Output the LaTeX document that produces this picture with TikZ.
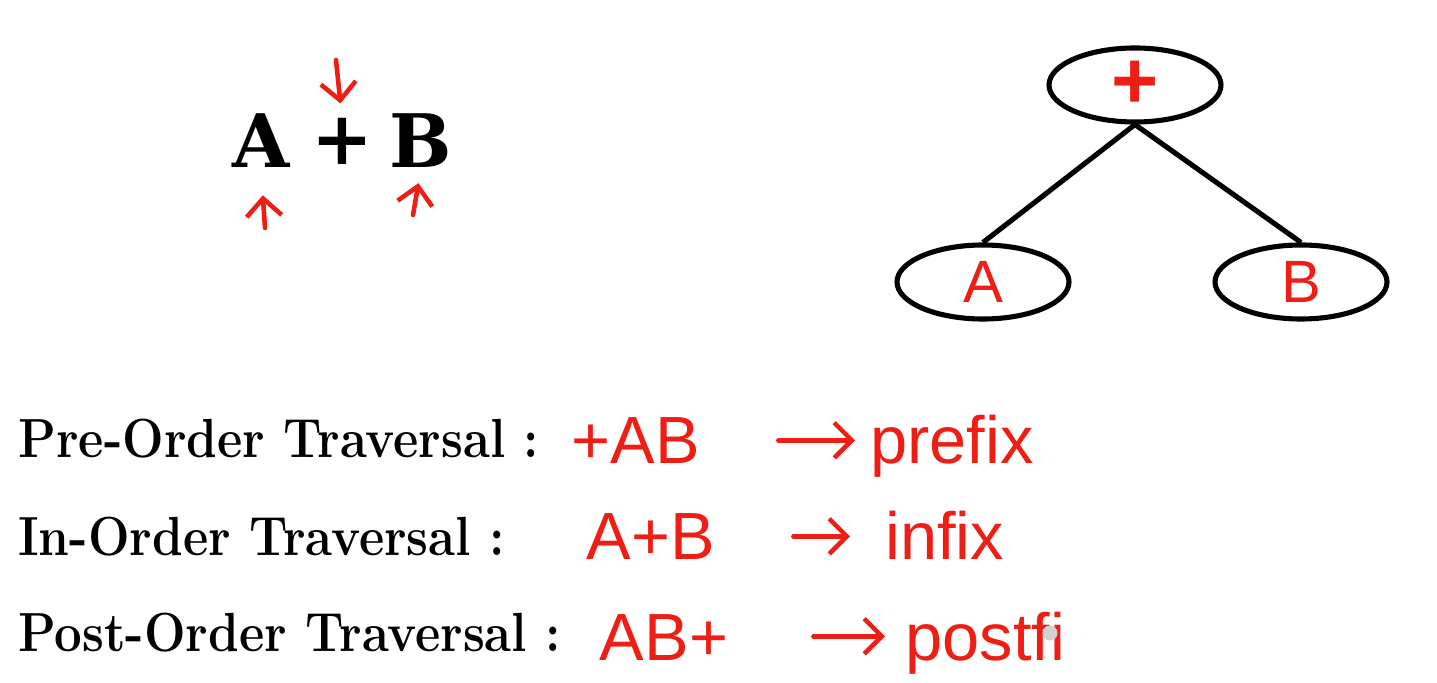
\documentclass[tikz,border=0pt]{standalone}
\usepackage{fontspec}
\usepackage{graphicx}
\newfontfamily\handfont{Liberation Sans}
\newfontfamily\slabfont{DejaVu Serif}
\usetikzlibrary{positioning,shapes.geometric,arrows.meta}
\definecolor{penred}{RGB}{238,30,20}

\tikzset{
  treenode/.style={draw, ellipse, line width=2.9pt, minimum width=3.44cm, minimum height=1.48cm, inner sep=0pt, text=penred, font=\handfont\fontsize{34}{36}\selectfont},
  branch/.style={line width=2.9pt},
  pen/.style={penred, line width=2.6pt, line cap=round, -{Straight Barb[length=10pt,width=20pt]}},
  operand/.style={inner sep=0pt, font=\slabfont\bfseries\fontsize{42}{46}\selectfont},
  order/.style={anchor=base west, inner sep=0pt, font=\bfseries\fontsize{28}{30}\selectfont},
  hand/.style={text=penred, inner sep=0pt, text height=32pt, text depth=5pt, font=\handfont\fontsize{38}{40}\selectfont}
}

\begin{document}
\begin{tikzpicture}
\useasboundingbox (0,0) rectangle (28.74,-13.66);
% expression A + B
\node[operand, anchor=base] (letA) at (5.22,-3.36) {A};
\node[operand, anchor=base] (plus) at (6.84,-3.30) {+};
\node[operand, anchor=base] (letB) at (8.42,-3.36) {B};
\coordinate (plusmark) at (6.72,-1.20);
\coordinate (amark) at (5.30,-4.56);
\coordinate (bmark) at (8.26,-4.30);
\draw[pen, shorten >=0.3cm] (plusmark) -- (plus.north);
\draw[pen, shorten >=0.54cm] (amark) -- (letA.south);
\draw[pen, shorten >=0.3cm] (bmark) -- (letB.south);
% expression tree
\node[treenode, font=\handfont\bfseries\fontsize{46}{46}\selectfont] (root) at (22.70,-1.70) {+};
\node[treenode] (leafA) at (19.66,-5.64) {A};
\node[treenode] (leafB) at (26.02,-5.64) {B};
\draw[branch] (root.south) -- (leafA.north);
\draw[branch] (root.south) -- (leafB.north);
% traversals
\node[order] (pre) at (0.36,-9.16) {\scalebox{1}[1.12]{Pre-Order Traversal :}};
\node[order] (in) at (0.36,-11.10) {\scalebox{1}[1.12]{In-Order Traversal :}};
\node[order] (post) at (0.36,-13.04) {\scalebox{1}[1.12]{Post-Order Traversal :}};
\node[hand, anchor=base] (preval) at (12.72,-9.28) {+AB};
\node[hand, anchor=base] (inval) at (13.02,-11.20) {A+B};
\node[hand, anchor=base] (postval) at (13.28,-13.20) {AB+};
\node[hand, anchor=base west] (prefix) at (17.40,-9.28) {prefix};
\node[hand, anchor=base west] (infix) at (17.70,-11.20) {infix};
\node[hand, anchor=base west] (postfix) at (18.10,-13.20) {postfi};
\draw[pen, shorten <=1.56cm, shorten >=0.3cm] (preval.east) -- (prefix.west);
\draw[pen, shorten <=1.56cm, shorten >=0.7cm] (inval.east) -- (infix.west);
\draw[pen, shorten <=1.7cm, shorten >=0.4cm] (postval.east) -- (postfix.west);
\fill[gray!35] (21.0,-12.66) circle (0.15);
\end{tikzpicture}
\end{document}
